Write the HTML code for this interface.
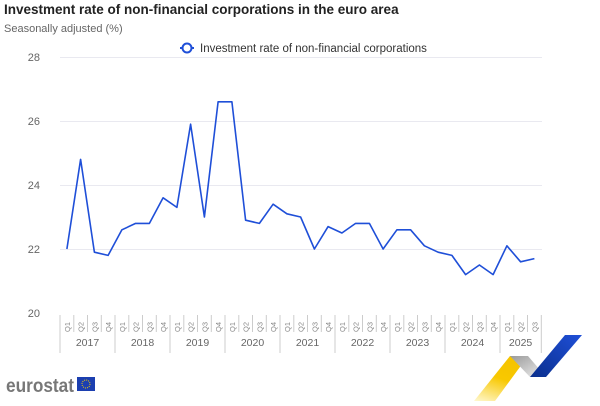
<!DOCTYPE html>
<html><head><meta charset="utf-8"><style>
body{margin:0;background:#fff;width:600px;height:401px;overflow:hidden;font-family:"Liberation Sans",sans-serif}
</style></head><body>
<svg width="600" height="401" xmlns="http://www.w3.org/2000/svg" font-family="Liberation Sans, sans-serif">
<defs>
<linearGradient id="yg" x1="0" y1="1" x2="0.4" y2="0"><stop offset="0" stop-color="#fff8d0"/><stop offset="0.6" stop-color="#f8c800"/><stop offset="1" stop-color="#f5c400"/></linearGradient>
<linearGradient id="gg" x1="0" y1="0" x2="1" y2="1"><stop offset="0" stop-color="#9a9a9a"/><stop offset="1" stop-color="#f0f0f0"/></linearGradient>
<linearGradient id="bg" x1="0" y1="1" x2="1" y2="0"><stop offset="0" stop-color="#0a2f8c"/><stop offset="1" stop-color="#1f4fd8"/></linearGradient>
</defs>
<text x="4" y="14" font-size="13.5" font-weight="bold" fill="#222">Investment rate of non-financial corporations in the euro area</text>
<text x="4" y="32" font-size="11" fill="#666">Seasonally adjusted (%)</text>
<line x1="180" y1="48" x2="194" y2="48" stroke="#1f4fd8" stroke-width="2"/>
<circle cx="187" cy="48" r="4.5" fill="#fff" stroke="#1f4fd8" stroke-width="2"/>
<text x="200" y="52" font-size="11.5" fill="#333">Investment rate of non-financial corporations</text>
<g stroke="#e9e9f0" stroke-width="1">
<line x1="60" y1="57.5" x2="542" y2="57.5"/><line x1="60" y1="121.5" x2="542" y2="121.5"/>
<line x1="60" y1="185.5" x2="542" y2="185.5"/><line x1="60" y1="249.5" x2="542" y2="249.5"/>
</g>
<g font-size="11" fill="#666" text-anchor="end">
<text x="40" y="61">28</text><text x="40" y="125">26</text><text x="40" y="189">24</text><text x="40" y="253">22</text><text x="40" y="317">20</text>
</g>
<g id="ax"></g>
<polyline id="ln" fill="none" stroke="#1f4fd8" stroke-width="1.6" stroke-linejoin="round"/>
<text x="6" y="392" font-size="19" fill="#777" font-weight="bold" textLength="68" lengthAdjust="spacingAndGlyphs">eurostat</text>
<rect x="77" y="377" width="18" height="14" fill="#1c3fb0"/>
<circle cx="86" cy="384" r="4" fill="none" stroke="#f5d000" stroke-width="1" stroke-dasharray="1 1.1"/>
<polygon points="474,401 495,401 528,356 510,356" fill="url(#yg)"/>
<polygon points="510,356 528,356 546,377 530,377" fill="url(#gg)"/>
<polygon points="530,377 546,377 582,335 565,335" fill="url(#bg)"/>
</svg>
<script>
var v=[22.0,24.8,21.9,21.8,22.6,22.8,22.8,23.6,23.3,25.9,23.0,26.6,26.6,22.9,22.8,23.4,23.1,23.0,22.0,22.7,22.5,22.8,22.8,22.0,22.6,22.6,22.1,21.9,21.8,21.2,21.5,21.2,22.1,21.6,21.7];
var s=13.75,x0=60,pts=[];
for(var i=0;i<v.length;i++)pts.push((x0+s*i+s/2).toFixed(1)+","+(313-(v[i]-20)*32).toFixed(1));
document.getElementById("ln").setAttribute("points",pts.join(" "));
var g=document.getElementById("ax"),h="";
for(var i=0;i<=35;i++){var x=x0+s*i;var yr=(i%4==0)||i==35;h+='<line x1="'+x.toFixed(1)+'" y1="315" x2="'+x.toFixed(1)+'" y2="'+(yr?353:332)+'" stroke="#ccc"/>';}
for(var i=0;i<35;i++){var cx=x0+s*i+s/2;h+='<text transform="translate('+(cx+3).toFixed(1)+',327) rotate(-90)" font-size="7.5" fill="#888" text-anchor="middle">Q'+(i%4+1)+'</text>';}
for(var y=0;y<9;y++){var a=x0+s*4*y,b=Math.min(a+s*4,x0+s*35);h+='<text x="'+((a+b)/2).toFixed(1)+'" y="346" font-size="10.5" fill="#666" text-anchor="middle">'+(2017+y)+'</text>';}
g.innerHTML=h;
</script>
</body></html>
